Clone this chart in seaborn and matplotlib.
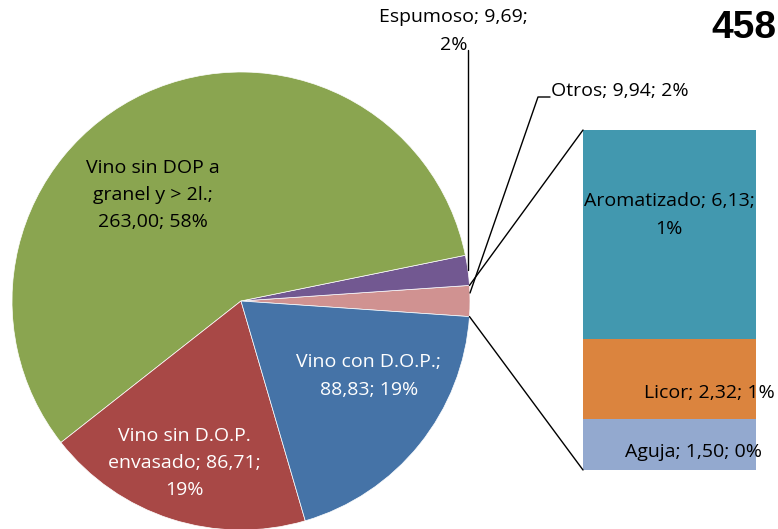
import numpy as np
import matplotlib
matplotlib.use("Agg")
import matplotlib.pyplot as plt
import seaborn as sns
import pandas as pd

# ---- data ----
pie_labels = ["Otros", "Espumoso", "Vino sin DOP a granel y > 2l.", "Vino sin D.O.P. envasado", "Vino con D.O.P."]
pie_values = [9.94, 9.69, 263.00, 86.71, 88.83]
pie_pcts = ["2%", "2%", "58%", "19%", "19%"]
pie_colors = ["#D09291", "#725891", "#8AA550", "#A84846", "#4573A7"]

bar_labels = ["Aromatizado", "Licor", "Aguja"]
bar_values = [6.13, 2.32, 1.50]
bar_pcts = ["1%", "1%", "0%"]
bar_colors = ["#4298AF", "#DB843E", "#93A9CF"]

total_label = "458"

sns.set_theme(style="white")
plt.rcParams['font.family'] = ['Open Sans', 'DejaVu Sans']
plt.rcParams['text.color'] = 'black'

W, H = 778, 529
fig = plt.figure(figsize=(W / 100, H / 100), dpi=100)

def Y(y):
    return H - y

# ---- bar of pie (stacked), drawn underneath ----
bx0, bx1, by_top, by_bot = 583, 756, 130, 470
bax = fig.add_axes([bx0 / W, Y(by_bot) / H, (bx1 - bx0) / W, (by_bot - by_top) / H])
bax.set_zorder(0)
cum = np.cumsum(bar_values[::-1])[::-1]  # tops of each stacked segment
df = pd.DataFrame({"x": ["Otros"] * 3, "top": cum, "name": bar_labels})
for i in range(len(bar_labels)):
    sns.barplot(data=df.iloc[[i]], x="x", y="top", color=bar_colors[i], width=1.0,
                ax=bax, saturation=1, edgecolor="none", linewidth=0)
bax.set_xlim(-0.5, 0.5)
bax.set_ylim(0, cum[0])
bax.axis("off")

# ---- main overlay axes in pixel coordinates ----
ax = fig.add_axes([0, 0, 1, 1])
ax.set_zorder(1)
ax.patch.set_alpha(0)

cx, cy, R = 241, Y(301), 229
total = sum(pie_values)
half = pie_values[0] / total * 360 / 2
ax.pie(pie_values, colors=pie_colors, startangle=-half, counterclock=True,
       center=(cx, cy), radius=R,
       wedgeprops=dict(linewidth=0.5, edgecolor="white"))
ax.set_aspect("equal")
ax.set_xlim(0, W)
ax.set_ylim(0, H)
ax.axis("off")

# ---- connector lines from pie to bar ----
a1 = np.deg2rad(half)
p_top = (cx + R * np.cos(a1), cy + R * np.sin(a1))
p_bot = (cx + R * np.cos(-a1), cy + R * np.sin(-a1))
ax.plot([p_top[0], bx0], [p_top[1], Y(by_top)], color="black", lw=1)
ax.plot([p_bot[0], bx0], [p_bot[1], Y(by_bot)], color="black", lw=1)

fs = 14
ls = 1.65
def fmt(v):
    return f"{v:.2f}".replace(".", ",")

# ---- pie labels ----
ax.text(153, Y(195), "Vino sin DOP a\ngranel y > 2l.;\n" + f"{fmt(pie_values[2])}; {pie_pcts[2]}",
        ha="center", va="center", fontsize=fs, color="black", linespacing=ls)
ax.text(184, Y(463), "Vino sin D.O.P.\nenvasado; " + f"{fmt(pie_values[3])};\n{pie_pcts[3]}",
        ha="center", va="center", fontsize=fs, color="white", linespacing=ls)
ax.text(369, Y(376), "Vino con D.O.P.;\n" + f"{fmt(pie_values[4])}; {pie_pcts[4]}",
        ha="center", va="center", fontsize=fs, color="white", linespacing=ls)

# Espumoso
ax.text(453, Y(17), f"Espumoso; {fmt(pie_values[1])};", ha="center", va="center", fontsize=fs, color="black")
ax.text(454, Y(45), pie_pcts[1], ha="center", va="center", fontsize=fs, color="black")
ax.plot([468, 468], [Y(50), Y(270)], color="black", lw=1)

# Otros
ax.text(551, Y(91), f"Otros; {fmt(pie_values[0])}; {pie_pcts[0]}", ha="left", va="center", fontsize=fs,
        color="black")
ax.plot([470, 538, 550], [Y(293), Y(97), Y(97)], color="black", lw=1)

# ---- bar labels ----
ax.text(669, Y(215), f"Aromatizado; {fmt(bar_values[0])};\n{bar_pcts[0]}", ha="center", va="center",
        fontsize=fs, linespacing=ls, color="black")
ax.text(709, Y(393), f"Licor; {fmt(bar_values[1])}; {bar_pcts[1]}", ha="center", va="center", fontsize=fs,
        color="black")
ax.text(694, Y(452), f"Aguja; {fmt(bar_values[2])}; {bar_pcts[2]}", ha="center", va="center", fontsize=fs,
        color="black")

# total
ax.text(776, Y(28), total_label, ha="right", va="center", fontsize=28, fontweight="bold", color="black",
        family=["Liberation Sans", "DejaVu Sans"])

fig.savefig("out.png", dpi=100)
